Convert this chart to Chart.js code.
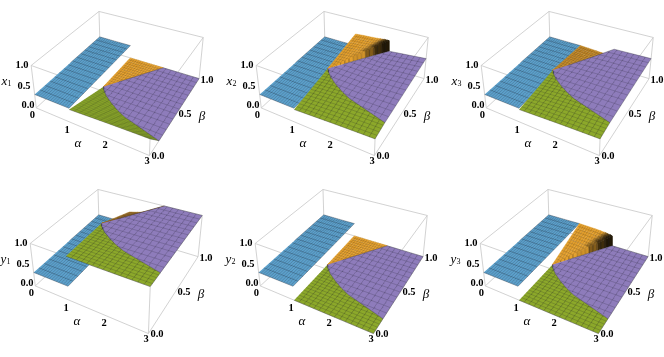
<!DOCTYPE html>
<html><head><meta charset="utf-8">
<script src="https://cdn.jsdelivr.net/npm/chart.js@4"></script>
<style>html,body{margin:0;padding:0;background:#fff;overflow:hidden}canvas{position:absolute;display:block}</style>
</head><body>
<script>
// ---------- data ----------
const alphaTicks=['0','1','2','3'];
const betaTicks=['0.0','0.5','1.0'];
const zTicks=['0.0','0.5','1.0'];
// boundary between the green and the purple piece
const curveAlpha=[1,1.1,1.25,1.5,1.75,2,2.5,3];
const curveBeta=[0.5,0.46,0.41,0.35,0.30,0.26,0.21,0.16];
// station lists for the tables below
const stationAlpha=[1,2,3];
const orangeU=[0,0.25,0.5,0.65,0.75,0.8,0.85,0.9,0.94,0.97,0.985,1];
// x1
const x1_blue=[0.33,0.33];
const x1_greenFront=[0.30,0.34,0.37];
const x1_curve=[0,0,0];
const x1_purpleBack=[0,0,0];
const x1_orangeEdge=[0,0,0,0,0,0,0,0,0,0,0,0];
// x2
const x2_blue=[0.33,0.33];
const x2_greenFront=[0.30,0.34,0.37];
const x2_curve=[0.46,0.43,0.41];
const x2_purpleBack=[0.46,0.43,0.50];
const x2_orangeEdge=[0.63,0.65,0.66,0.67,0.68,0.68,0.69,0.69,0.69,0.69,0.69,0.43];
// x3
const x3_blue=[0.33,0.33];
const x3_greenFront=[0.30,0.34,0.37];
const x3_curve=[0.42,0.42,0.41];
const x3_purpleBack=[0.42,0.48,0.50];
const x3_orangeEdge=[0.33,0.32,0.31,0.30,0.30,0.30,0.30,0.30,0.30,0.30,0.30,0.30];
// y1
const y1_blue=[0.33,0.33];
const y1_greenFront=[1,1,1];
const y1_curve=[1,1,1];
const y1_purpleBack=[1,1,1];
const y1_orangeEdge=[0.63,0.68,0.74,0.78,0.82,0.84,0.87,0.90,0.93,0.96,0.98,1];
// y2
const y2_blue=[0.33,0.33];
const y2_greenFront=[0,0,0];
const y2_curve=[0,0,0];
const y2_purpleBack=[0,0,0];
const y2_orangeEdge=[0,0,0,0,0,0,0,0,0,0,0,0];
// y3
const y3_blue=[0.33,0.33];
const y3_greenFront=[0,0,0];
const y3_curve=[0,0,0];
const y3_purpleBack=[0,0,0];
const y3_orangeEdge=[0.33,0.32,0.31,0.30,0.29,0.29,0.28,0.27,0.27,0.26,0.25,0];

// ---------- layout ----------
const panels=[
 {left:0,  top:0,  w:224,name:'x',sub:'1',blue:x1_blue,front:x1_greenFront,curve:x1_curve,back:x1_purpleBack,edge:x1_orangeEdge},
 {left:225,top:0,  w:224,name:'x',sub:'2',blue:x2_blue,front:x2_greenFront,curve:x2_curve,back:x2_purpleBack,edge:x2_orangeEdge},
 {left:450,top:0,  w:214,name:'x',sub:'3',blue:x3_blue,front:x3_greenFront,curve:x3_curve,back:x3_purpleBack,edge:x3_orangeEdge},
 {left:-1, top:178,w:224,name:'y',sub:'1',blue:y1_blue,front:y1_greenFront,curve:y1_curve,back:y1_purpleBack,edge:y1_orangeEdge},
 {left:224,top:178,w:224,name:'y',sub:'2',blue:y2_blue,front:y2_greenFront,curve:y2_curve,back:y2_purpleBack,edge:y2_orangeEdge},
 {left:449,top:178,w:214,name:'y',sub:'3',blue:y3_blue,front:y3_greenFront,curve:y3_curve,back:y3_purpleBack,edge:y3_orangeEdge}
];
const H=179;
const COL={blue:[92,160,203],green:[140,168,42],orange:[228,160,45],purple:[142,124,187]};
const meshColor=a=>`rgba(30,30,40,${a})`;
const EDGE='rgba(40,40,50,0.55)',BOX='#c6c6c6';
const labelPos={alpha:[[32.3,115],[67,130],[105,145],[147,161]],beta:[[158,156],[185,114],[207,80]],z:[[28,105],[24,86],[22,65]],aName:[78,143.5],bName:[202,117],zName:[6,82]};

// ---------- camera fitted to the box corners (alpha, beta, z) -> local px ----------
const anchors=[[0,0,0,36.7,107.3],[0,0,1,30.7,66.7],[3,0,0,149,156.7],[3,0,1,151.7,106.7],[3,1,0,199,78.3],[3,1,1,203.3,38.3],[0,1,1,99,11]];
function solve(A,b){const n=b.length;const M=A.map((r,i)=>[...r,b[i]]);
 for(let c=0;c<n;c++){let p=c;for(let r=c+1;r<n;r++)if(Math.abs(M[r][c])>Math.abs(M[p][c]))p=r;[M[c],M[p]]=[M[p],M[c]];
  for(let r=0;r<n;r++){if(r===c)continue;const f=M[r][c]/M[c][c];for(let k=c;k<=n;k++)M[r][k]-=f*M[c][k];}}
 return M.map((r,i)=>r[n]/r[i]);}
const cam=(function(){const rows=[],rhs=[];
 anchors.forEach(([a,b,z,u,v])=>{a/=3;u/=100;v/=100;
  rows.push([a,b,z,1,0,0,0,0,-u*a,-u*b,-u*z]);rhs.push(u);
  rows.push([0,0,0,0,a,b,z,1,-v*a,-v*b,-v*z]);rhs.push(v);});
 const N=Array.from({length:11},(_,i)=>Array.from({length:11},(_,j)=>rows.reduce((s,r)=>s+r[i]*r[j],0)));
 const y=Array.from({length:11},(_,i)=>rows.reduce((s,r,k)=>s+r[i]*rhs[k],0));
 return solve(N,y);})();
function proj(a,b,z){a/=3;const w=cam[8]*a+cam[9]*b+cam[10]*z+1;
 return {x:100*(cam[0]*a+cam[1]*b+cam[2]*z+cam[3])/w,y:100*(cam[4]*a+cam[5]*b+cam[6]*z+cam[7])/w};}

// ---------- helpers ----------
function lookup(xs,ys,x){if(x<=xs[0])return ys[0];for(let i=1;i<xs.length;i++)if(x<=xs[i]){const t=(x-xs[i-1])/(xs[i]-xs[i-1]);return ys[i-1]+t*(ys[i]-ys[i-1]);}return ys[ys.length-1];}
const betaC=a=>lookup(curveAlpha,curveBeta,a);
const mean=v=>v.reduce((s,x)=>s+x,0)/v.length;
const smooth=t=>{t=Math.max(0,Math.min(1,t));return t*t*(3-2*t);};
function makeSurfaces(p){
 const blueZ=(a,b)=>p.blue[0]+(p.blue[1]-p.blue[0])*b;
 const greenZ=(a,b)=>{const s=b/betaC(a);const f=lookup(stationAlpha,p.front,a),c=lookup(stationAlpha,p.curve,a);return f+(c-f)*s;};
 const purpleZ=(a,b)=>{const bc=betaC(a),s=(b-bc)/(1-bc);const c=lookup(stationAlpha,p.curve,a),k=lookup(stationAlpha,p.back,a);return c+(k-c)*s;};
 const orangeZ=(a,b)=>{const r=2*b-1;const u=r>0?(a-1)/r:0;const e=lookup(orangeU,p.edge,u),j=p.curve[0];return j+r*(e-j);};
 return {blueZ,greenZ,purpleZ,orangeZ};
}
const pts=(list,f)=>list.map(([a,b])=>{const q=proj(a,b,f(a,b));return {x:q.x,y:q.y};});
function seg(a0,b0,a1,b1,n){const o=[];for(let i=0;i<n;i++){const t=i/n;o.push([a0+(a1-a0)*t,b0+(b1-b0)*t]);}return o;}
function curveTrace(rev){const o=[];for(let i=0;i<curveAlpha.length;i++)o.push([curveAlpha[i],curveBeta[i]]);
 const f=[];for(let i=0;i<o.length-1;i++)f.push(...seg(o[i][0],o[i][1],o[i+1][0],o[i+1][1],3));f.push(o[o.length-1]);return rev?f.reverse():f;}
function polyDS(data,rgb,edge,w){return {data,showLine:true,fill:'shape',backgroundColor:`rgb(${rgb.join(',')})`,borderColor:edge||EDGE,borderWidth:w===undefined?0.6:w,pointRadius:0,tension:0,clip:false};}
function lineDS(data,color,w){return {data,showLine:true,fill:false,borderColor:color,borderWidth:w,pointRadius:0,tension:0,clip:false,spanGaps:false};}
function meshDS(f,inside,a0,a1,b0,b1,NA,NB,alpha){const d=[],S=60;const gap={x:NaN,y:NaN};
 const run=(getAB)=>{let open=false;for(let k=0;k<=S;k++){const [a,b]=getAB(k/S);if(inside(a,b)){const q=proj(a,b,f(a,b));d.push({x:q.x,y:q.y});open=true;}else if(open){d.push(gap);open=false;}}if(open)d.push(gap);};
 for(let i=1;i<NA;i++){const a=a0+(a1-a0)*i/NA;run(t=>[a,b0+(b1-b0)*t]);}
 for(let i=1;i<NB;i++){const b=b0+(b1-b0)*i/NB;run(t=>[a0+(a1-a0)*t,b]);}
 return lineDS(d,meshColor(alpha),0.55);}
function boxDS(){const c=(a,b,z)=>proj(a,b,z),d=[],gap={x:NaN,y:NaN};
 const E=[[0,0,0,3,0,0],[3,0,0,3,1,0],[3,1,0,0,1,0],[0,1,0,0,0,0],[0,0,1,3,0,1],[3,0,1,3,1,1],[3,1,1,0,1,1],[0,1,1,0,0,1],[0,0,0,0,0,1],[3,0,0,3,0,1],[3,1,0,3,1,1],[0,1,0,0,1,1]];
 E.forEach(e=>{d.push(c(e[0],e[1],e[2]),c(e[3],e[4],e[5]),gap);});return lineDS(d,BOX,0.8);}
const shadeOf=(rgb,f)=>rgb.map(v=>Math.round(v*f));

function datasets(p){
 const S=makeSurfaces(p),list=[boxDS()];
 // blue
 list.push(polyDS(pts([...seg(0,0,1,0,2),...seg(1,0,1,1,2),...seg(1,1,0,1,2),...seg(0,1,0,0,2)],S.blueZ),COL.blue));
 list.push(meshDS(S.blueZ,()=>true,0,1,0,1,15,15,0.36));
 // orange: fan of cells from the junction to the beta=1 edge
 const rad=[0,0.4,0.6,0.75,0.88,1];const n=orangeU.length;
 const wall=Math.min(1,Math.abs(p.edge[n-2]-p.edge[n-1])/0.1);
 const jz=p.curve[0];const away=Math.max(0.72,1-1.5*Math.max(0,jz-p.edge[0]));
 const fan=(u,r,e)=>{const q=proj(1+u*r,0.5+r/2,jz+r*(e-jz));return {x:q.x,y:q.y};};
 for(let i=0;i<n-1;i++)for(let k=0;k<rad.length-1;k++){
  const u0=orangeU[i],u1=orangeU[i+1],r0=rad[k],r1=rad[k+1];
  const dark=wall*smooth((u1-0.72)/0.28)*smooth((r1-0.5)/0.5);
  const c=shadeOf(COL.orange,away*(1-0.85*dark));const col=`rgb(${c.join(',')})`;
  list.push(polyDS([fan(u0,r0,p.edge[i]),fan(u0,r1,p.edge[i]),fan(u1,r1,p.edge[i+1]),fan(u1,r0,p.edge[i+1])],c,col,0.5));
 }
 list.push(meshDS(S.orangeZ,(a,b)=>a-1<=2*b-1&&b<=1,1,2,0.5,1,15,15,0.2));
 // green
 const gDiff=Math.max(0,mean(p.front)-mean(p.curve));
 const gPoly=[...seg(1,0,3,0,6),[3,0],...curveTrace(true)];
 list.push(polyDS(pts(gPoly,S.greenZ),shadeOf(COL.green,1-0.15*gDiff)));
 list.push(meshDS(S.greenZ,(a,b)=>b<=betaC(a),1,3,0,0.5,15,15,gDiff>0?0.22:0.36));
 // purple
 const pPoly=[...curveTrace(false),...seg(3,betaC(3),3,1,2),...seg(3,1,2,1,3),...seg(2,1,1,0.5,4)];
 list.push(polyDS(pts(pPoly,S.purpleZ),COL.purple));
 list.push(meshDS(S.purpleZ,(a,b)=>b>=betaC(a)&&a>=2*b,1,3,0.16,1,13,13,0.36));
 const m=list.length;list.forEach((d,i)=>d.order=m-i);
 return list;
}
const textPlugin={id:'panelText',afterDatasetsDraw(chart){
 const ctx=chart.ctx,p=chart.options.plugins.panelText;ctx.save();ctx.fillStyle='#000';ctx.textAlign='center';ctx.textBaseline='middle';
 ctx.font='bold 10.5px "Liberation Serif"';
 alphaTicks.forEach((t,i)=>ctx.fillText(t,...labelPos.alpha[i]));
 betaTicks.forEach((t,i)=>ctx.fillText(t,...labelPos.beta[i]));
 zTicks.forEach((t,i)=>ctx.fillText(t,...labelPos.z[i]));
 ctx.font='italic 13px "Liberation Serif"';
 ctx.fillText('α',...labelPos.aName);ctx.fillText('β',...labelPos.bName);
 ctx.fillText(p.name,labelPos.zName[0]-1.5,labelPos.zName[1]);
 ctx.font='8px "Liberation Serif"';ctx.fillText(p.sub,labelPos.zName[0]+3.5,labelPos.zName[1]+2);
 ctx.restore();}};
panels.forEach(p=>{
 const cv=document.createElement('canvas');cv.width=p.w;cv.height=H;cv.style.left=p.left+'px';cv.style.top=p.top+'px';cv.style.width=p.w+'px';cv.style.height=H+'px';document.body.appendChild(cv);
 new Chart(cv,{type:'scatter',data:{datasets:datasets(p)},plugins:[textPlugin],options:{responsive:false,animation:false,devicePixelRatio:1,layout:{padding:0},
  scales:{x:{type:'linear',display:false,min:0,max:p.w},y:{type:'linear',display:false,min:0,max:H,reverse:true}},
  plugins:{legend:{display:false},tooltip:{enabled:false},title:{display:false},panelText:{name:p.name,sub:p.sub}}}});
});
</script>
</body></html>
